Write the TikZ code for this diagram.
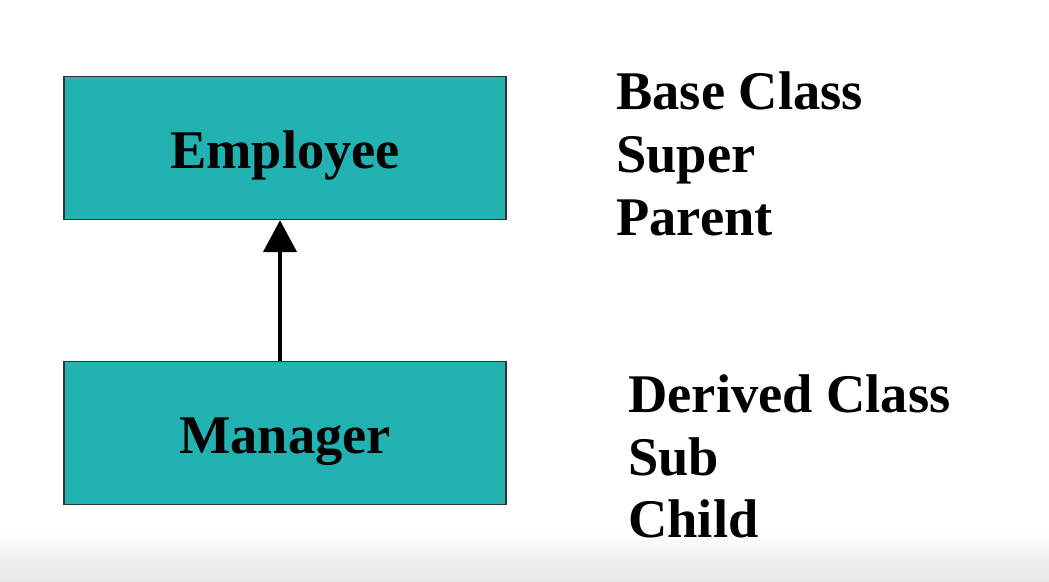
\documentclass[tikz,border=0pt]{standalone}
\usepackage{fontspec}
\setmainfont{Liberation Serif}
\usetikzlibrary{arrows.meta}

\definecolor{boxteal}{RGB}{34,178,178}
\tikzset{
    classbox/.style={draw=black!80, line width=0.8pt, fill=boxteal,
        minimum width=8.84cm, minimum height=2.86cm, inner sep=0pt,
        text height=0.8cm, text depth=0cm,
        font=\fontsize{31}{36}\selectfont\bfseries},
    rolename/.style={anchor=base west, inner sep=0pt,
        font=\fontsize{31}{36}\selectfont\bfseries}
}

\begin{document}
\begin{tikzpicture}[x=0.02cm, y=-0.02cm]
    \useasboundingbox (0,0) rectangle (1049,582);
    \shade[top color=white, bottom color=black!10] (0,530) rectangle (1049,582);
    \node[classbox] (employee) at (285,148) {Employee};
    \node[classbox] (manager) at (285,433) {Manager};
    \draw[-{Triangle[width=0.66cm, length=0.64cm]}, line width=2.6pt]
        (manager.north -| 280,0) -- (employee.south -| 280,0);
    \node[rolename] (base) at (616,109) {Base Class};
    \node[rolename] (super) at (616,172) {Super};
    \node[rolename] (parent) at (616,235) {Parent};
    \node[rolename] (derived) at (628,412) {Derived Class};
    \node[rolename] (sub) at (628,475) {Sub};
    \node[rolename] (child) at (628,537) {Child};
\end{tikzpicture}
\end{document}
